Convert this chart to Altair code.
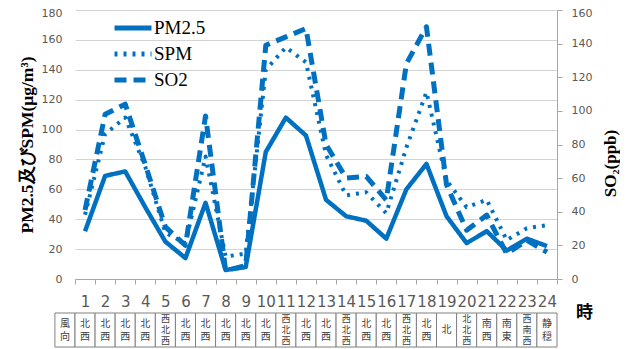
import altair as alt
import pandas as pd

hours = list(range(1, 25))
pm25 = [32, 69, 72, 48, 25, 14, 51, 6, 8, 85, 108, 96, 53, 42, 39, 27, 60, 77, 42, 24, 32, 19, 27, 22]
spm = [43, 97, 108, 75, 31, 24, 82, 15, 17, 140, 155, 145, 83, 56, 58, 44, 88, 125, 66, 48, 53, 26, 34, 36]
so2 = [41, 98, 104, 68, 31, 20, 97, 5, 8, 139, 144, 149, 80, 60, 61, 47, 128, 150, 56, 29, 38, 15, 23, 16]
wind_header = "風向"
wind = ["北西", "北西", "北西", "北西", "西北西", "北西", "北西", "北西", "北西", "北西",
        "西北西", "北西", "北西", "西北西", "北西", "北西", "西北西", "北西", "北", "北北西",
        "南西", "南東", "西南西", "静穏"]
series = ["PM2.5", "SPM", "SO2"]
left_ticks = list(range(0, 181, 20))
right_ticks = list(range(0, 161, 20))

BLUE = "#0070C0"
GRID = "#d4d4d4"
AXIS = "#a6a6a6"
LABEL = "#595959"

left_df = pd.DataFrame({
    "hour": hours * 2,
    "value": pm25 + spm,
    "series": ["PM2.5"] * 24 + ["SPM"] * 24,
})
so2_df = pd.DataFrame({"hour": hours, "so2": so2, "series": ["SO2"] * 24})
all_wind = [wind_header] + wind
table_df = pd.DataFrame({
    "hour": [0] + hours,
    "wind": ["\n".join(list(w)) for w in all_wind],
    "n": [len(w) for w in all_wind],
})

x_scale = alt.Scale(domain=[0.5, 24.5], nice=False, zero=False)
x_axis = alt.Axis(
    values=[h - 0.5 for h in hours] + [24.5],
    labelExpr="datum.value < 24 ? toString(datum.value + 0.5) : ''",
    labelOffset=10,
    labelFlush=False,
    labelOverlap=False,
    labelFont="DejaVu Sans",
    labelFontSize=15,
    labelColor=LABEL,
    labelPadding=10,
    tickSize=5,
    tickColor=AXIS,
    domainColor=AXIS,
    grid=False,
    title="時",
    titleFont="Noto Sans CJK JP",
    titleFontWeight="bold",
    titleFontSize=17,
    titleColor="black",
    titleX=509,
    titleY=33,
    titleAlign="center",
    titleBaseline="middle",
    titleAngle=0,
)
x_enc = alt.X("hour:Q", scale=x_scale, axis=x_axis)

dash = alt.StrokeDash(
    "series:N",
    scale=alt.Scale(domain=series, range=[[1, 0], [3, 6], [12, 7]]),
    legend=alt.Legend(
        title=None,
        orient="none",
        legendX=37,
        legendY=8,
        symbolType="stroke",
        symbolSize=1369,
        symbolStrokeWidth=5,
        symbolStrokeColor=BLUE,
        labelFont="Liberation Serif",
        labelFontSize=19,
        labelColor="black",
        labelOffset=0,
        clipHeight=20,
        rowPadding=6,
        padding=0,
    ),
)

y_left = alt.Y(
    "value:Q",
    scale=alt.Scale(domain=[0, 180], nice=False),
    axis=alt.Axis(
        values=left_ticks,
        grid=True,
        gridColor=GRID,
        ticks=False,
        domain=False,
        labelPadding=13,
        labelFont="DejaVu Sans",
        labelFontSize=11,
        labelColor=LABEL,
        labelOffset={"condition": {"test": "datum.value == 180", "value": 3.5}, "value": 0},
        title="PM2.5及びSPM(μg/m³)",
        titleFont="Liberation Serif",
        titleFontWeight="bold",
        titleFontSize=17.5,
        titleColor="black",
        titleX=-48,
        titleY=134.5,
        titleAngle=270,
        titleAlign="center",
        titleBaseline="middle",
    ),
)

y_right = alt.Y(
    "so2:Q",
    scale=alt.Scale(domain=[0, 160], nice=False),
    axis=alt.Axis(
        orient="right",
        values=right_ticks,
        grid=False,
        tickSize=5,
        tickColor=AXIS,
        domainColor=AXIS,
        labelPadding=9,
        labelFont="DejaVu Sans",
        labelFontSize=11,
        labelColor=LABEL,
        labelOffset={"condition": {"test": "datum.value == 160", "value": 3.5}, "value": 0},
        title="SO₂(ppb)",
        titleFont="Liberation Serif",
        titleFontWeight="bold",
        titleFontSize=17,
        titleColor="black",
        titleX=53,
        titleY=153,
        titleAngle=270,
        titleAlign="center",
        titleBaseline="middle",
    ),
)

cells = alt.Chart(table_df).transform_calculate(
    lo="datum.hour - 0.5", hi="datum.hour + 0.5"
).mark_rect(fill="white", stroke="#808080", strokeWidth=1).encode(
    x=alt.X("lo:Q", scale=x_scale, axis=x_axis),
    x2="hi:Q",
    y=alt.value(303),
    y2=alt.value(337),
)


def text_layer(n, y, lh, fs):
    return alt.Chart(table_df).transform_filter(f"datum.n == {n}").mark_text(
        lineBreak="\n", font="Noto Sans CJK JP", fontSize=fs, lineHeight=lh,
        color="#404040", baseline="middle", align="center",
    ).encode(
        x=alt.X("hour:Q", scale=x_scale, axis=x_axis),
        y=alt.value(y),
        text="wind:N",
    )


t1 = text_layer(1, 320, 12, 10)
t2 = text_layer(2, 313.5, 13, 10)
t3 = text_layer(3, 309, 11, 9)

pm_line = alt.Chart(left_df).transform_filter("datum.series == 'PM2.5'").mark_line(
    color=BLUE, strokeWidth=4.5, strokeJoin="round"
).encode(x=x_enc, y=y_left, strokeDash=dash)

spm_line = alt.Chart(left_df).transform_filter("datum.series == 'SPM'").mark_line(
    color=BLUE, strokeWidth=4, strokeJoin="round"
).encode(x=x_enc, y=y_left, strokeDash=dash)

so2_line = alt.Chart(so2_df).mark_line(
    color=BLUE, strokeWidth=5, strokeJoin="round"
).encode(x=x_enc, y=y_right, strokeDash=dash)

left = alt.layer(pm_line, spm_line)

chart = alt.layer(cells, t1, t2, t3, left, so2_line).resolve_scale(
    y="independent"
).properties(
    width=482,
    height=269,
    autosize=alt.AutoSizeParams(type="none"),
    padding={"left": 67, "top": 2, "right": 63, "bottom": 70},
    background="white",
).configure_view(stroke=None)

chart.save("out.html", embed_options={"renderer": "svg", "actions": False})
